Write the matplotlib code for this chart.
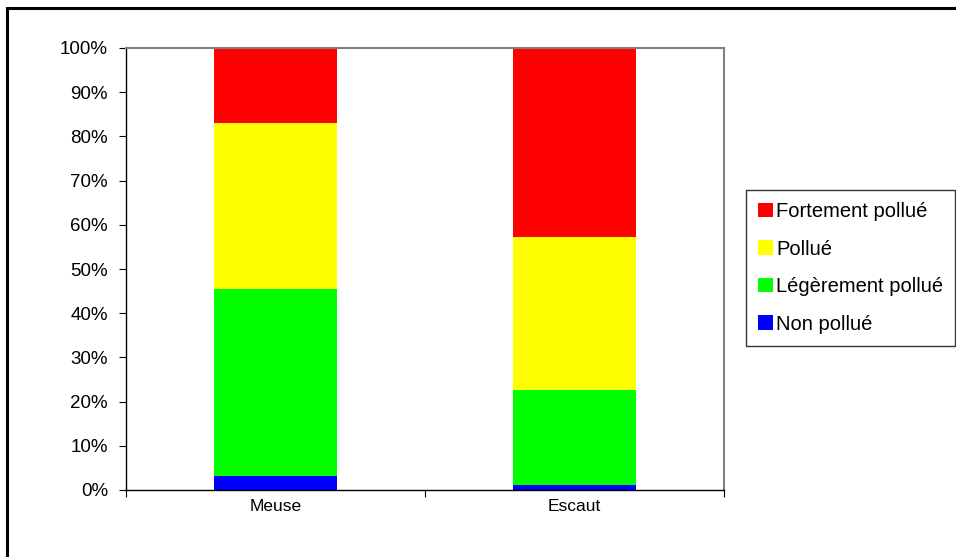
import numpy as np
import matplotlib.pyplot as plt
from matplotlib.patches import Rectangle, Patch
from matplotlib.ticker import FuncFormatter

plt.rcParams['font.family'] = ['Liberation Sans', 'DejaVu Sans']

# data (percent of sites per class)
rivers = ['Meuse', 'Escaut']
classes = ['Non pollué', 'Légèrement pollué', 'Pollué', 'Fortement pollué']
non_pollue = [3.2, 1.1]
leg_pollue = [42.2, 21.5]
pollue = [37.7, 34.7]
fort_pollue = [16.9, 42.7]
colors = ['#0000FF', '#00FF00', '#FFFF00', '#FF0000']

series = [non_pollue, leg_pollue, pollue, fort_pollue]

fig = plt.figure(figsize=(9.56, 5.57), dpi=100)
ax = fig.add_axes([126 / 956, 67 / 557, 598 / 956, 442 / 557])

x = np.arange(len(rivers))
bottom = np.zeros(len(rivers))
for vals, col, lab in zip(series, colors, classes):
    ax.bar(x, vals, width=0.41, bottom=bottom, color=col, label=lab, linewidth=0)
    bottom += np.array(vals)

ax.set_xlim(-0.5, 1.5)
ax.set_ylim(0, 100)
ax.set_yticks(np.arange(0, 101, 10))
ax.yaxis.set_major_formatter(FuncFormatter(lambda v, p: '%d%%' % v))

# category boundaries as ticks, names in the middle
ax.set_xticks([-0.5, 0.5, 1.5])
ax.set_xticklabels([])
ax.set_xticks(x, minor=True)
ax.set_xticklabels(rivers, minor=True)
ax.tick_params(axis='x', which='major', length=5, direction='out', color='black')
ax.tick_params(axis='x', which='minor', length=0, pad=6.5, labelsize=12.5)
ax.tick_params(axis='y', length=5, direction='out', pad=8, labelsize=13.5)

for s in ['left', 'bottom']:
    ax.spines[s].set_color('black')
    ax.spines[s].set_linewidth(1)
for s in ['top', 'right']:
    ax.spines[s].set_color('#808080')
    ax.spines[s].set_linewidth(1.5)

# legend, reversed order like the original
handles = [Patch(facecolor=c, edgecolor='none') for c in colors][::-1]
leg = fig.legend(handles, classes[::-1], loc='upper left',
                 bbox_to_anchor=(746 / 956, 1 - 190 / 557),
                 fontsize=14.5, frameon=True, fancybox=False, shadow=False,
                 handlelength=0.75, handleheight=0.75, handletextpad=0.15,
                 labelspacing=0.92, borderpad=0.6, borderaxespad=0)
leg.get_frame().set_edgecolor('black')
leg.get_frame().set_linewidth(1)

# outer chart border
fig.patches.append(Rectangle((6.5 / 956, -0.1), 1.2, 1 - 7.5 / 557 + 0.1,
                             transform=fig.transFigure, fill=False,
                             edgecolor='black', linewidth=2.2))

fig.savefig('out.png', dpi=100)
